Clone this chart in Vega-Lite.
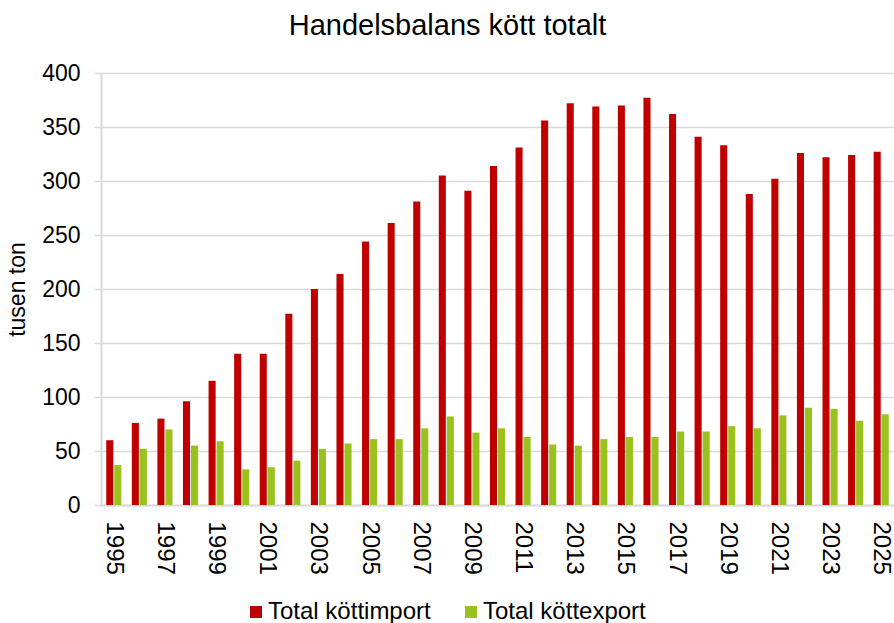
{
  "$schema": "https://vega.github.io/schema/vega-lite/v6.json",
  "width": 793,
  "height": 432,
  "autosize": {"type": "none"},
  "padding": {"left": 101, "top": 73, "right": 0, "bottom": 118},
  "background": "white",
  "title": {
    "text": "Handelsbalans kött totalt",
    "font": "Liberation Sans",
    "fontSize": 29,
    "fontWeight": "normal",
    "color": "#000000",
    "baseline": "bottom",
    "offset": -8,
    "dx": -50
  },
  "config": {
    "view": {"stroke": null},
    "font": "Liberation Sans"
  },
  "data": {
    "values": [
      {"year": 1995, "series": "Total köttimport", "value": 60},
      {"year": 1996, "series": "Total köttimport", "value": 76},
      {"year": 1997, "series": "Total köttimport", "value": 80},
      {"year": 1998, "series": "Total köttimport", "value": 96},
      {"year": 1999, "series": "Total köttimport", "value": 115},
      {"year": 2000, "series": "Total köttimport", "value": 140},
      {"year": 2001, "series": "Total köttimport", "value": 140},
      {"year": 2002, "series": "Total köttimport", "value": 177},
      {"year": 2003, "series": "Total köttimport", "value": 200},
      {"year": 2004, "series": "Total köttimport", "value": 214},
      {"year": 2005, "series": "Total köttimport", "value": 244},
      {"year": 2006, "series": "Total köttimport", "value": 261},
      {"year": 2007, "series": "Total köttimport", "value": 281},
      {"year": 2008, "series": "Total köttimport", "value": 305},
      {"year": 2009, "series": "Total köttimport", "value": 291},
      {"year": 2010, "series": "Total köttimport", "value": 314},
      {"year": 2011, "series": "Total köttimport", "value": 331},
      {"year": 2012, "series": "Total köttimport", "value": 356},
      {"year": 2013, "series": "Total köttimport", "value": 372},
      {"year": 2014, "series": "Total köttimport", "value": 369},
      {"year": 2015, "series": "Total köttimport", "value": 370},
      {"year": 2016, "series": "Total köttimport", "value": 377},
      {"year": 2017, "series": "Total köttimport", "value": 362},
      {"year": 2018, "series": "Total köttimport", "value": 341},
      {"year": 2019, "series": "Total köttimport", "value": 333},
      {"year": 2020, "series": "Total köttimport", "value": 288},
      {"year": 2021, "series": "Total köttimport", "value": 302},
      {"year": 2022, "series": "Total köttimport", "value": 326},
      {"year": 2023, "series": "Total köttimport", "value": 322},
      {"year": 2024, "series": "Total köttimport", "value": 324},
      {"year": 2025, "series": "Total köttimport", "value": 327},
      {"year": 1995, "series": "Total köttexport", "value": 37},
      {"year": 1996, "series": "Total köttexport", "value": 52},
      {"year": 1997, "series": "Total köttexport", "value": 70},
      {"year": 1998, "series": "Total köttexport", "value": 55},
      {"year": 1999, "series": "Total köttexport", "value": 59},
      {"year": 2000, "series": "Total köttexport", "value": 33},
      {"year": 2001, "series": "Total köttexport", "value": 35},
      {"year": 2002, "series": "Total köttexport", "value": 41},
      {"year": 2003, "series": "Total köttexport", "value": 52},
      {"year": 2004, "series": "Total köttexport", "value": 57},
      {"year": 2005, "series": "Total köttexport", "value": 61},
      {"year": 2006, "series": "Total köttexport", "value": 61},
      {"year": 2007, "series": "Total köttexport", "value": 71},
      {"year": 2008, "series": "Total köttexport", "value": 82},
      {"year": 2009, "series": "Total köttexport", "value": 67},
      {"year": 2010, "series": "Total köttexport", "value": 71},
      {"year": 2011, "series": "Total köttexport", "value": 63},
      {"year": 2012, "series": "Total köttexport", "value": 56},
      {"year": 2013, "series": "Total köttexport", "value": 55},
      {"year": 2014, "series": "Total köttexport", "value": 61},
      {"year": 2015, "series": "Total köttexport", "value": 63},
      {"year": 2016, "series": "Total köttexport", "value": 63},
      {"year": 2017, "series": "Total köttexport", "value": 68},
      {"year": 2018, "series": "Total köttexport", "value": 68},
      {"year": 2019, "series": "Total köttexport", "value": 73},
      {"year": 2020, "series": "Total köttexport", "value": 71},
      {"year": 2021, "series": "Total köttexport", "value": 83},
      {"year": 2022, "series": "Total köttexport", "value": 90},
      {"year": 2023, "series": "Total köttexport", "value": 89},
      {"year": 2024, "series": "Total köttexport", "value": 78},
      {"year": 2025, "series": "Total köttexport", "value": 84}
    ]
  },
  "mark": {"type": "bar"},
  "encoding": {
    "x": {
      "field": "year",
      "type": "ordinal",
      "scale": {"paddingInner": 0.41, "paddingOuter": 0.205},
      "axis": {
        "title": null,
        "values": [1995, 1997, 1999, 2001, 2003, 2005, 2007, 2009, 2011, 2013, 2015, 2017, 2019, 2021, 2023, 2025],
        "labelAngle": 90,
        "labelFontSize": 24,
        "labelColor": "#000000",
        "labelPadding": 16,
        "ticks": false,
        "domainColor": "#d9d9d9",
        "domainWidth": 2,
        "grid": false
      }
    },
    "xOffset": {
      "field": "series",
      "type": "nominal",
      "sort": ["Total köttimport", "Total köttexport"],
      "scale": {"paddingInner": 0.12, "paddingOuter": 0}
    },
    "y": {
      "field": "value",
      "type": "quantitative",
      "scale": {"domain": [0, 400], "nice": false},
      "axis": {
        "title": "tusen ton",
        "titleFontSize": 23,
        "titleFontWeight": "normal",
        "titleColor": "#000000",
        "titleAngle": -90,
        "titleX": -84,
        "titleY": 216,
        "titleAlign": "center",
        "titleBaseline": "middle",
        "values": [0, 50, 100, 150, 200, 250, 300, 350, 400],
        "labelFontSize": 23,
        "labelColor": "#000000",
        "labelPadding": 14,
        "tickSize": 7,
        "tickColor": "#d9d9d9",
        "tickWidth": 1.5,
        "domainColor": "#d9d9d9",
        "domainWidth": 2,
        "gridColor": "#d9d9d9",
        "gridWidth": 1.5
      }
    },
    "color": {
      "field": "series",
      "type": "nominal",
      "scale": {
        "domain": ["Total köttimport", "Total köttexport"],
        "range": ["#C00000", "#99C21E"]
      },
      "legend": {
        "title": null,
        "orient": "none",
        "direction": "horizontal",
        "legendX": 143,
        "legendY": 527,
        "symbolType": "square",
        "symbolSize": 144,
        "symbolStrokeWidth": 0,
        "labelFontSize": 24,
        "labelLimit": 400,
        "labelColor": "#000000",
        "labelOffset": 0,
        "columnPadding": 28
      }
    }
  }
}
